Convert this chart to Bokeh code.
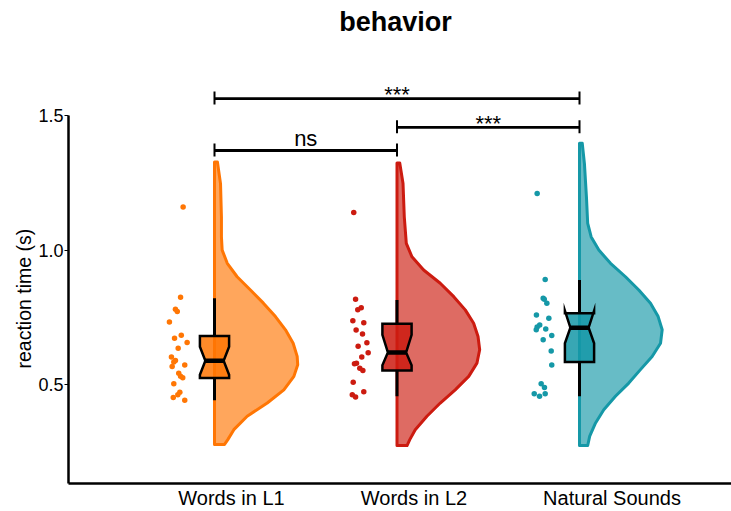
from bokeh.plotting import figure
from bokeh.models import Range1d, FixedTicker, Title, PrintfTickFormatter
from bokeh.core.properties import value
from bokeh.embed import file_html
from bokeh.resources import INLINE

# ---------------- data ----------------
categories = ["Words in L1", "Words in L2", "Natural Sounds"]
colors = ["#FF7604", "#CC1B10", "#1598A7"]

# individual reaction times (s) and their horizontal jitter (category units)
l1_rt = [1.160, 0.825, 0.780, 0.772, 0.733, 0.684, 0.673, 0.657, 0.635, 0.603, 0.590,
         0.584, 0.573, 0.568, 0.543, 0.531, 0.526, 0.504, 0.472, 0.463, 0.452, 0.442]
l1_jit = [0.028, 0.014, -0.014, -0.004, -0.047, 0.018, -0.019, 0.050, 0.001, -0.036, -0.014,
          -0.023, 0.037, -0.032, 0.004, 0.014, 0.026, -0.023, 0.010, -0.001, -0.026, 0.037]
l2_rt = [1.140, 0.817, 0.786, 0.778, 0.738, 0.730, 0.703, 0.688, 0.656, 0.643,
         0.619, 0.603, 0.580, 0.578, 0.561, 0.553, 0.509, 0.474, 0.463, 0.454]
l2_jit = [-0.037, -0.027, 0.004, -0.015, -0.042, 0.018, -0.024, 0.011, 0.035, -0.013,
          0.042, 0.007, -0.022, -0.033, -0.004, 0.013, -0.040, 0.018, -0.045, -0.027]
ns_rt = [1.210, 0.891, 0.821, 0.817, 0.803, 0.759, 0.747, 0.722, 0.714, 0.704,
         0.707, 0.683, 0.667, 0.625, 0.573, 0.504, 0.490, 0.466, 0.457, 0.466]
ns_jit = [-0.032, 0.012, 0.001, 0.007, 0.021, -0.036, 0.032, -0.018, -0.032, -0.037,
          0.015, 0.048, 0.001, 0.045, 0.048, -0.010, 0.008, -0.048, -0.019, 0.012]

# box-plot statistics per category
whisker_low = [0.442, 0.457, 0.457]
q1 = [0.525, 0.553, 0.584]
median = [0.589, 0.620, 0.712]
q3 = [0.681, 0.726, 0.765]
whisker_high = [0.821, 0.815, 0.889]
notch_low = [0.537, 0.572, 0.654]
notch_high = [0.641, 0.685, 0.775]

# half-violin density outline: y values (s) and half widths (category units)
l1_dens_y = [1.327, 1.247, 1.123, 1.049, 1.000, 0.951, 0.901, 0.852, 0.803, 0.753, 0.704,
             0.654, 0.605, 0.574, 0.531, 0.481, 0.432, 0.383, 0.333, 0.296, 0.278]
l1_dens_w = [0.016, 0.033, 0.038, 0.038, 0.042, 0.070, 0.124, 0.197, 0.268, 0.334, 0.389,
             0.431, 0.453, 0.456, 0.435, 0.380, 0.289, 0.179, 0.106, 0.073, 0.055]
l2_dens_y = [1.324, 1.247, 1.123, 1.025, 0.975, 0.926, 0.877, 0.827, 0.778, 0.728,
             0.679, 0.630, 0.580, 0.531, 0.481, 0.432, 0.383, 0.333, 0.296, 0.274]
l2_dens_w = [0.015, 0.033, 0.040, 0.051, 0.082, 0.146, 0.237, 0.311, 0.374, 0.420,
             0.444, 0.453, 0.438, 0.393, 0.319, 0.237, 0.164, 0.100, 0.070, 0.055]
ns_dens_y = [1.397, 1.321, 1.198, 1.099, 1.049, 1.000, 0.951, 0.901, 0.852, 0.803, 0.753,
             0.704, 0.654, 0.605, 0.556, 0.506, 0.457, 0.407, 0.358, 0.309, 0.274]
ns_dens_w = [0.015, 0.027, 0.038, 0.045, 0.064, 0.106, 0.170, 0.252, 0.325, 0.389, 0.431,
             0.453, 0.444, 0.398, 0.334, 0.270, 0.197, 0.133, 0.088, 0.056, 0.045]

# significance brackets
bracket_start = ["Words in L1", "Words in L2", "Words in L1"]
bracket_end = ["Natural Sounds", "Natural Sounds", "Words in L2"]
bracket_y = [1.563, 1.456, 1.370]
bracket_label = ["***", "***", "ns"]

y_ticks = [0.5, 1.0, 1.5]

# ---------------- layout ----------------
W, H = 731, 511
LEFT = 68
X0 = 0.4
XSCALE = 182.5                       # px per category unit
X1 = X0 + (W - LEFT) / XSCALE
FRAME_BOTTOM = 483                   # expected canvas px of the x axis
Y_TOP_PX = 115                       # canvas px where 1.5 sits
Y0 = 0.133
yscale = (FRAME_BOTTOM - Y_TOP_PX) / (1.5 - Y0)
Y1 = 1.5 + Y_TOP_PX / yscale
OFF = 0.2                            # violin/box offset from category position
BOX_HW = 0.08
NOTCH_HW = 0.05
FONT = "Liberation Sans"
LABEL_SHIFT_PX = [53.5, 53.5, 69.0]  # tick labels start at the category position


def ypx(dy):
    return dy / yscale


p = figure(width=W, height=H, x_range=Range1d(X0, X1), y_range=Range1d(Y0, Y1),
           output_backend="svg", toolbar_location=None,
           min_border_left=LEFT, min_border_right=0, min_border_top=0, min_border_bottom=0)
p.outline_line_color = None
p.grid.visible = False
p.background_fill_color = "white"

pos = {c: i + 1 for i, c in enumerate(categories)}

# violins
vx, vy = [], []
for i, (dy, dw) in enumerate([(l1_dens_y, l1_dens_w), (l2_dens_y, l2_dens_w), (ns_dens_y, ns_dens_w)]):
    e = i + 1 + OFF
    vx.append([e] + [e + w for w in dw] + [e])
    vy.append([dy[0]] + list(dy) + [dy[-1]])
p.patches(vx, vy, fill_color=colors, fill_alpha=0.65, line_color=colors, line_width=3,
          line_join="round")

# jittered points
for i, (rt, jit) in enumerate([(l1_rt, l1_jit), (l2_rt, l2_jit), (ns_rt, ns_jit)]):
    p.scatter([i + 1 + j for j in jit], rt, size=5.5, fill_color=colors[i], line_color=None)

# whiskers
wx0, wy0, wy1 = [], [], []
for i in range(3):
    e = i + 1 + OFF
    wx0 += [e, e]
    wy0 += [whisker_low[i], q3[i]]
    wy1 += [q1[i], whisker_high[i]]
p.segment(wx0, wy0, wx0, wy1, line_color="black", line_width=3)

# notched boxes
bx, by = [], []
for i in range(3):
    e = i + 1 + OFF
    bx.append([e - BOX_HW, e - BOX_HW, e - NOTCH_HW, e - BOX_HW, e - BOX_HW,
               e + BOX_HW, e + BOX_HW, e + NOTCH_HW, e + BOX_HW, e + BOX_HW])
    by.append([q1[i], notch_low[i], median[i], notch_high[i], q3[i],
               q3[i], notch_high[i], median[i], notch_low[i], q1[i]])
p.patches(bx, by, fill_color=colors, fill_alpha=0.85, line_color="black", line_width=2.5,
          line_join="miter")
p.segment([i + 1 + OFF - NOTCH_HW for i in range(3)], median,
          [i + 1 + OFF + NOTCH_HW for i in range(3)], median,
          line_color="black", line_width=4.5)

# significance brackets
sx0 = [pos[a] + OFF for a in bracket_start]
sx1 = [pos[b] + OFF for b in bracket_end]
p.segment(sx0, bracket_y, sx1, bracket_y, line_color="black", line_width=2.8)
p.segment(sx0 + sx1, [y - ypx(6) for y in bracket_y] * 2, sx0 + sx1,
          [y + ypx(7) for y in bracket_y] * 2, line_color="black", line_width=2)
lab_y = [y + ypx(4 if t == "ns" else -4) for y, t in zip(bracket_y, bracket_label)]
p.text([(a + b) / 2 for a, b in zip(sx0, sx1)], [y + ypx(8) for y in lab_y],
       text=bracket_label, text_font=value(FONT), text_font_size="22px",
       text_align="center", text_baseline="middle", text_color="black")

# title
p.text([1 + (395 - 177.5) / XSCALE], [1.5 + ypx(115 - 21.5)], text=["behavior"],
       text_font=value(FONT), text_font_size="27px", text_font_style="bold",
       text_align="center", text_baseline="middle", text_color="black")

# axes
p.xaxis.ticker = FixedTicker(ticks=[i + 1 + s / XSCALE for i, s in enumerate(LABEL_SHIFT_PX)])
p.xaxis.major_label_overrides = {i + 1 + s / XSCALE: c
                                 for i, (s, c) in enumerate(zip(LABEL_SHIFT_PX, categories))}
p.xaxis.minor_tick_line_color = None
p.xaxis.major_tick_line_color = None
p.xaxis.major_tick_out = 0
p.xaxis.major_tick_in = 0
p.xaxis.major_label_standoff = 3
p.xaxis.major_label_text_font = FONT
p.xaxis.major_label_text_font_size = "20px"
p.xaxis.major_label_text_color = "black"
p.xaxis.axis_line_width = 2.5
p.xaxis.axis_line_color = "black"

p.yaxis.ticker = FixedTicker(ticks=y_ticks)
p.yaxis.formatter = PrintfTickFormatter(format="%.1f")
p.yaxis.bounds = (Y0, 1.5)
p.yaxis.minor_tick_line_color = None
p.yaxis.major_tick_out = 4
p.yaxis.major_tick_in = 0
p.yaxis.major_label_standoff = 1
p.yaxis.major_label_text_font = FONT
p.yaxis.major_label_text_font_size = "18px"
p.yaxis.major_label_text_color = "black"
p.yaxis.axis_line_width = 2.5
p.yaxis.axis_line_color = "black"

p.add_layout(Title(text="reaction time (s)", align="left", offset=FRAME_BOTTOM - 368,
                   text_font=FONT, text_font_size="19.5px", text_font_style="normal",
                   text_color="black", standoff=2), "left")

open("out.html", "w").write(file_html(p, INLINE))
